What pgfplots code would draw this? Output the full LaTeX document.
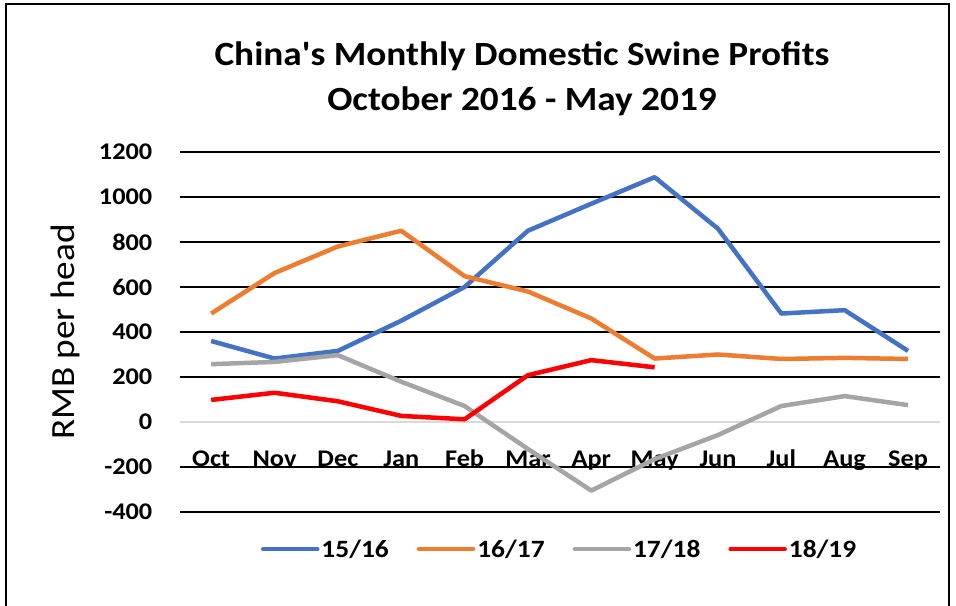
\documentclass[border=0pt]{standalone}
\usepackage{pgfplots}
\pgfplotsset{compat=1.18}
\usepackage{fontspec}
\setmainfont{Carlito}[FakeStretch=1.1]
\newfontfamily\titlefont{Carlito}[FakeStretch=1.1]
\definecolor{c1}{HTML}{4472C4}
\definecolor{c2}{HTML}{ED7D31}
\definecolor{c3}{HTML}{A5A5A5}
\definecolor{c4}{HTML}{FF0000}
\begin{document}
\begin{tikzpicture}[x=1bp,y=1bp]
\useasboundingbox (0,0) rectangle (956,606);
\draw[line width=2bp] (6,-10) -- (6,602) -- (949,602) -- (949,-10);
\node[font=\fontsize{34}{38}\titlefont\bfseries] at (522,550) {China's Monthly Domestic Swine Profits};
\node[font=\fontsize{34}{38}\titlefont\bfseries] at (522,505) {October 2016 - May 2019};
\begin{axis}[
  at={(179.5bp,94bp)}, anchor=south west,
  scale only axis, width=760.2bp, height=360bp,
  xmin=-0.5, xmax=11.5, ymin=-400, ymax=1200,
  xtick={0,...,11},
  xticklabels={Oct,Nov,Dec,Jan,Feb,Mar,Apr,May,Jun,Jul,Aug,Sep},
  ytick={-400,-200,200,400,600,800,1000,1200},
  extra y ticks={0},
  extra y tick style={grid style={draw=black!15, line width=1.2bp}},
  ymajorgrids,
  grid style={black, line width=2bp},
  axis line style={draw=none},
  major tick length=0pt,
  /pgf/number format/assume math mode=true,
  /pgf/number format/1000 sep={},
  tick label style={font=\fontsize{24}{28}\selectfont\bfseries},
  yticklabel style={inner sep=0pt, anchor=east, xshift=-27bp},
  xticklabel style={inner sep=0pt, anchor=base, yshift=45bp},
  ylabel={RMB per head},
  ylabel style={at={(axis description cs:-0.1506,0.5)}, anchor=center, font=\fontsize{34}{38}\selectfont},
  legend columns=4,
  legend style={at={(0.5,-0.103)}, anchor=center, draw=none, fill=none,
    font=\fontsize{25}{29}\selectfont\bfseries,
    /tikz/every odd column/.append style={column sep=0bp},
    /tikz/every even column/.append style={column sep=26bp}},
  legend image code/.code={\draw[#1, line cap=round] (0bp,0bp) -- (54bp,0bp);},
  every axis plot/.append style={line width=4.5bp, line join=round},
]
\addplot[c1] coordinates {(0,360) (1,282) (2,316) (3,450) (4,600) (5,850) (6,970) (7,1088) (8,859) (9,482) (10,497) (11,316)};
\addlegendentry{15/16}
\addplot[c2] coordinates {(0,482) (1,662) (2,780) (3,850) (4,648) (5,580) (6,460) (7,282) (8,300) (9,280) (10,285) (11,280)};
\addlegendentry{16/17}
\addplot[c3] coordinates {(0,257) (1,267) (2,297) (3,179) (4,71) (5,-120) (6,-305) (7,-165) (8,-58) (9,71) (10,115) (11,75)};
\addlegendentry{17/18}
\addplot[c4] coordinates {(0,98) (1,130) (2,92) (3,27) (4,12) (5,208) (6,275) (7,243)};
\addlegendentry{18/19}
\end{axis}
\end{tikzpicture}
\end{document}
